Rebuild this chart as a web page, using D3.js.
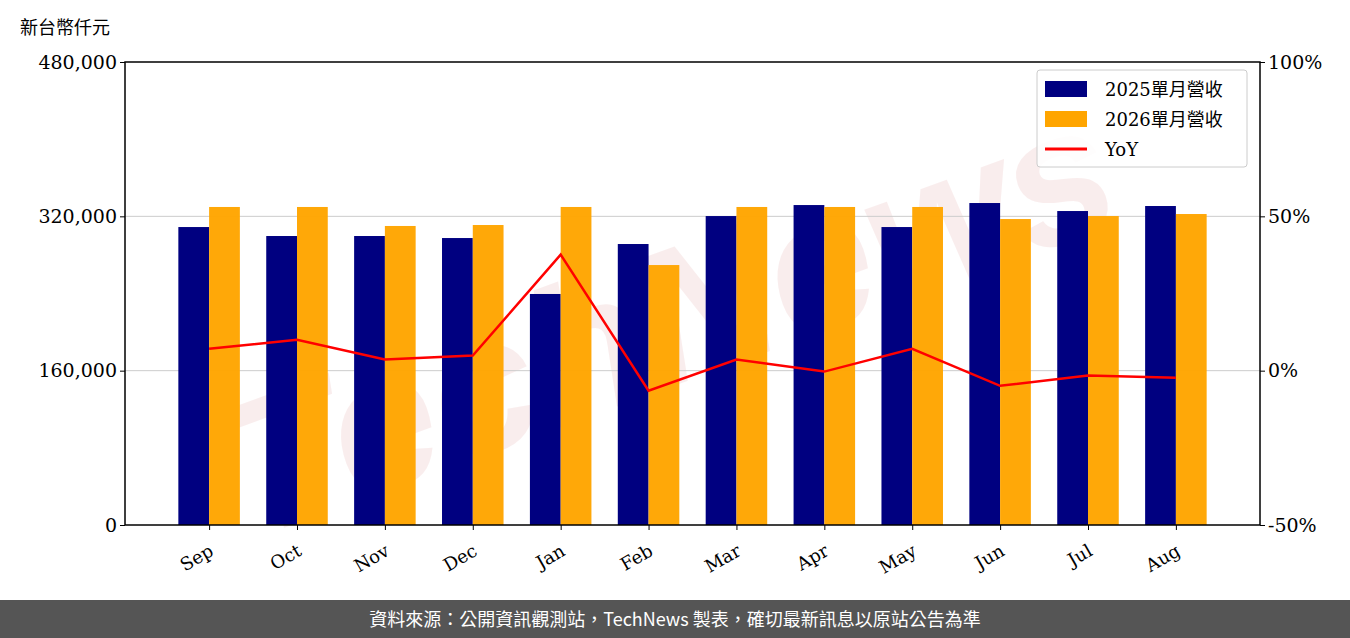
<!DOCTYPE html>
<html><head><meta charset="utf-8">
<script src="https://cdn.jsdelivr.net/npm/d3@7"></script>
<style>body{margin:0;background:#fff}</style>
</head><body>
<svg id="viz" width="1350" height="638"></svg>
<script>
const months = ["Sep","Oct","Nov","Dec","Jan","Feb","Mar","Apr","May","Jun","Jul","Aug"]
const rev2025 = [308900,299600,299600,297500,239500,291300,320300,331700,308900,333800,325500,330700]
const rev2026 = [329700,329700,310000,311000,329700,269500,329700,329700,329700,317200,320300,322400]
const yoy = [7.1,10.0,3.6,4.9,37.6,-6.5,3.6,-0.3,7.1,-4.9,-1.6,-2.3]
const leftTicks = [0,160000,320000,480000]
const rightTicks = [-50,0,50,100]

const svg = d3.select("svg#viz")
const L = 125, R = 1260, T = 62, B = 525
const serif = "'DejaVu Serif',serif"
const cjk = "'Noto Sans CJK TC',sans-serif"

const x = d3.scaleLinear().domain([-0.957, 11.957]).range([L, R])
const y = d3.scaleLinear().domain([0, 480000]).range([B, T])
const y2 = d3.scaleLinear().domain([-50, 100]).range([B, T])
const bw = x(0.35) - x(0)

// watermark
svg.append("text").attr("x", 690).attr("y", 380)
  .attr("transform", "rotate(-20 690 380)")
  .attr("text-anchor", "middle").attr("font-family", "sans-serif")
  .attr("font-size", 190).attr("font-style", "italic").attr("font-weight", "bold")
  .attr("fill", "#e8b0b0").attr("opacity", 0.22).text("TechNews")

svg.append("g").selectAll("line").data([160000, 320000]).join("line")
  .attr("x1", L).attr("x2", R).attr("y1", d => y(d)).attr("y2", d => y(d))
  .attr("stroke", "#ccc").attr("stroke-width", 1)

svg.append("g").selectAll("rect").data(rev2025).join("rect")
  .attr("x", (d, i) => x(i - 0.35)).attr("width", bw)
  .attr("y", d => y(d)).attr("height", d => B - y(d)).attr("fill", "#000080")
svg.append("g").selectAll("rect").data(rev2026).join("rect")
  .attr("x", (d, i) => x(i)).attr("width", bw)
  .attr("y", d => y(d)).attr("height", d => B - y(d)).attr("fill", "#ffa500").attr("opacity", 0.97)

svg.append("path").datum(yoy)
  .attr("d", d3.line().x((d, i) => x(i)).y(d => y2(d)))
  .attr("fill", "none").attr("stroke", "red").attr("stroke-width", 2.5)

svg.append("rect").attr("x", L).attr("y", T).attr("width", R - L).attr("height", B - T)
  .attr("fill", "none").attr("stroke", "#000").attr("stroke-width", 1.5)

const ax = svg.append("g").attr("transform", `translate(0,${B})`)
  .call(d3.axisBottom(x).tickValues(d3.range(12)).tickFormat(i => months[i]).tickSize(5).tickSizeOuter(0))
ax.select(".domain").remove()
ax.selectAll("text").attr("font-family", serif).attr("font-size", 18)
  .attr("text-anchor", "end").attr("x", 0).attr("y", 0).attr("dy", "0.35em")
  .attr("transform", "translate(2,24) rotate(-30)")

const ay = svg.append("g").attr("transform", `translate(${L},0)`)
  .call(d3.axisLeft(y).tickValues(leftTicks).tickFormat(d3.format(",")).tickSize(5))
ay.select(".domain").remove()
ay.selectAll("text").attr("font-family", serif).attr("font-size", 19)

const ay2 = svg.append("g").attr("transform", `translate(${R},0)`)
  .call(d3.axisRight(y2).tickValues(rightTicks).tickFormat(d => d + "%").tickSize(5))
ay2.select(".domain").remove()
ay2.selectAll("text").attr("font-family", serif).attr("font-size", 19)

svg.append("text").attr("x", 20).attr("y", 34).attr("font-family", cjk).attr("font-size", 18).text("新台幣仟元")

// legend
const lg = svg.append("g").attr("transform", "translate(1037,70)")
lg.append("rect").attr("width", 210).attr("height", 97).attr("rx", 3)
  .attr("fill", "#fff").attr("fill-opacity", 0.85).attr("stroke", "#ccc")
const items = [["2025單月營收", "#000080", "bar"], ["2026單月營收", "#ffa500", "bar"], ["YoY", "red", "line"]]
items.forEach(([t, c, k], i) => {
  const yy = 19 + i * 30
  if (k === "bar") lg.append("rect").attr("x", 8).attr("y", yy - 8).attr("width", 42).attr("height", 16).attr("fill", c)
  else lg.append("line").attr("x1", 8).attr("x2", 50).attr("y1", yy).attr("y2", yy).attr("stroke", c).attr("stroke-width", 3)
  lg.append("text").attr("x", 68).attr("y", yy + 7).attr("font-family", serif + "," + cjk).attr("font-size", 18).text(t)
})

svg.append("rect").attr("x", 0).attr("y", 600).attr("width", 1350).attr("height", 38).attr("fill", "#555")
svg.append("text").attr("x", 675).attr("y", 626).attr("text-anchor", "middle").attr("fill", "#fff")
  .attr("font-family", cjk).attr("font-size", 18)
  .text("資料來源：公開資訊觀測站，TechNews 製表，確切最新訊息以原站公告為準")
</script>
</body></html>
